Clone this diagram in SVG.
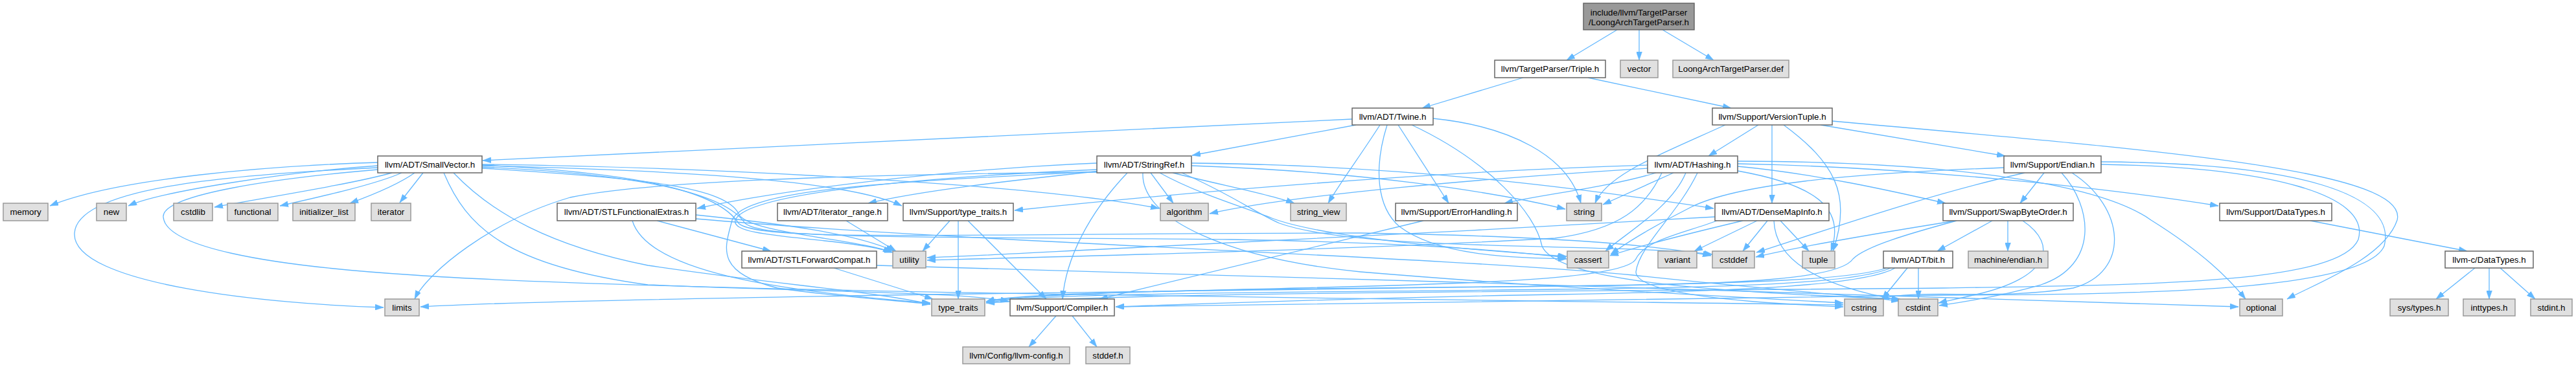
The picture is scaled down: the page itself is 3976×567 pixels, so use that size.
<svg xmlns="http://www.w3.org/2000/svg" width="3976" height="567" viewBox="0 0 3976 567">
<style>
.n rect{fill:#ffffff;stroke:#666666;stroke-width:1.5}
.x rect{fill:#e0e0e0;stroke:#999999;stroke-width:1.5}
.r rect{fill:#999999;stroke:#666666;stroke-width:1.5}
text{font-family:"Liberation Sans",Arial,Helvetica,sans-serif;font-size:13.33px;fill:#000000;text-anchor:middle}
#edges path{fill:none;stroke:#63b8ff;stroke-width:1.3;marker-end:url(#ah)}
</style>
<defs>
<marker id="ah" viewBox="0 0 13 9" refX="13" refY="4.5" markerWidth="13" markerHeight="9" orient="auto" markerUnits="userSpaceOnUse">
<path d="M0,0 L13,4.5 L0,9 Z" fill="#63b8ff" stroke="#63b8ff" stroke-width="0.5"/>
</marker>
</defs>
<rect width="3976" height="567" fill="#ffffff"/>
<g id="edges">
<path d="M2496,46 L2418,93"/>
<path d="M2530,46 L2530,93"/>
<path d="M2566,46 L2645,93"/>
<path d="M2351,120 L2195,167"/>
<path d="M2451,120 L2672,167"/>
<path d="M2087,184 L745,248"/>
<path d="M2093,193 L1840,240"/>
<path d="M2130,193 C2100,240 2070,280 2050,314"/>
<path d="M2141,193 C2120,260 2125,320 2160,350 C2220,395 2330,398 2418,400"/>
<path d="M2158,193 L2236,314"/>
<path d="M2179,193 C2300,250 2370,330 2380,380 C2400,430 2600,450 2933,462"/>
<path d="M2212,183 C2330,195 2420,240 2440,314"/>
<path d="M2663,193 C2560,240 2480,270 2462,314"/>
<path d="M2714,193 L2637,241"/>
<path d="M2735,193 L2735,314"/>
<path d="M2753,193 C2830,250 2860,300 2829,388"/>
<path d="M2810,193 L3095,241"/>
<path d="M2828,187 C3300,230 3720,260 3700,340 C3680,400 3570,440 3530,462"/>
<path d="M2543,255 C2200,265 1800,300 1566,325"/>
<path d="M2543,260 C2300,275 2000,300 1867,330"/>
<path d="M2565,267 C2540,320 2500,355 2400,368 C2100,385 1700,395 1431,402"/>
<path d="M2556,267 C2480,290 2380,300 2322,314"/>
<path d="M2583,267 L2474,316"/>
<path d="M2602,267 C2580,320 2510,360 2478,388"/>
<path d="M2620,267 C2590,330 2530,380 2525,420 C2525,455 2700,468 2845,474"/>
<path d="M2682,264 C2800,285 2850,320 2826,388"/>
<path d="M2682,257 C2800,268 2920,295 3003,314"/>
<path d="M2682,253 C2950,258 3250,290 3424,318"/>
<path d="M2682,249 C3050,250 3250,290 3320,340 C3400,390 3440,430 3466,462"/>
<path d="M3155,267 L3118,314"/>
<path d="M3125,267 C2980,300 2850,345 2711,390"/>
<path d="M3093,259 C2850,268 2680,285 2610,320 C2560,345 2510,375 2486,393"/>
<path d="M3182,267 C3230,320 3240,410 3150,440 C3080,460 3020,468 2993,472"/>
<path d="M3198,267 C3280,320 3290,420 3200,445 C3080,465 2960,445 2902,462"/>
<path d="M3243,254 C3500,258 3660,300 3640,370 C3610,440 3300,440 3000,445 C2500,450 1800,450 1522,468"/>
<path d="M3243,250 C3550,252 3700,300 3680,380 C3650,450 3300,455 3000,456 C2500,460 2000,470 1722,474"/>
<path d="M3075,341 L2990,388"/>
<path d="M3099,341 L3099,388"/>
<path d="M3019,341 C2900,360 2780,380 2710,397"/>
<path d="M3122,341 C3180,380 3160,430 3050,455 C3020,462 3000,466 2992,468"/>
<path d="M3020,341 C2950,360 2880,380 2860,400 C2840,430 2700,440 2400,442 C2000,446 1650,448 1522,466"/>
<path d="M2944,414 L2905,462"/>
<path d="M2961,414 L2961,462"/>
<path d="M2912,414 C2860,432 2700,438 2400,442 C1800,450 900,460 649,474"/>
<path d="M2918,414 C2870,436 2700,444 2400,447 C2000,452 1600,452 1522,468"/>
<path d="M2925,414 C2880,440 2700,450 2400,455 C2100,460 1900,468 1722,474"/>
<path d="M2690,341 C2610,360 2530,380 2485,395"/>
<path d="M2712,341 L2615,388"/>
<path d="M2728,341 L2690,388"/>
<path d="M2748,341 L2792,388"/>
<path d="M2738,341 C2740,400 2800,440 2933,464"/>
<path d="M2647,335 C2400,350 2000,370 1800,380 C1600,390 1500,396 1431,398"/>
<path d="M2650,341 C2600,360 2540,370 2525,400 C2510,430 2300,438 2000,445 C1700,452 1560,455 1522,466"/>
<path d="M1014,341 L1190,388"/>
<path d="M1074,338 C1500,375 2200,395 2520,425 C2700,445 2850,455 2932,465"/>
<path d="M976,341 C1000,420 1200,450 1436,468"/>
<path d="M1074,332 C1200,345 1320,360 1380,388"/>
<path d="M1306,341 L1383,388"/>
<path d="M1466,341 L1424,388"/>
<path d="M1479,341 L1479,462"/>
<path d="M1494,341 L1615,462"/>
<path d="M1287,414 L1440,462"/>
<path d="M1353,410 C2000,430 3000,455 3455,474"/>
<path d="M2197,341 L1697,462"/>
<path d="M1630,488 L1588,536"/>
<path d="M1655,488 L1693,536"/>
<path d="M3566,341 L3808,388"/>
<path d="M3820,414 L3760,462"/>
<path d="M3842,414 L3842,462"/>
<path d="M3859,414 L3913,462"/>
<path d="M1693,252 C1450,262 1200,295 1076,322"/>
<path d="M1700,264 C1550,280 1420,295 1340,314"/>
<path d="M1693,262 C1400,275 1150,300 1135,340 C1125,370 1300,365 1378,390"/>
<path d="M1693,266 C1300,270 1000,280 880,305 C760,340 660,420 640,462"/>
<path d="M1693,265 C1400,280 1150,290 1130,340 C1120,380 1100,420 1200,445 C1300,460 1400,465 1436,470"/>
<path d="M1740,267 C1680,330 1645,400 1640,462"/>
<path d="M1776,267 L1811,314"/>
<path d="M1810,267 C1880,285 1960,300 1998,314"/>
<path d="M1839,256 C2100,265 2300,295 2416,323"/>
<path d="M1839,252 C2200,255 2500,300 2645,322"/>
<path d="M1790,267 C1850,300 1920,320 1963,337 C2050,370 2300,388 2418,396"/>
<path d="M1824,267 C1900,300 1940,330 1975,345 C2100,390 2500,375 2643,393"/>
<path d="M1764,267 C1760,340 1900,400 2100,420 C2400,445 2700,460 2845,468"/>
<path d="M583,251 C420,256 180,275 77,318"/>
<path d="M583,256 C450,265 250,295 198,318"/>
<path d="M605,267 C540,285 410,305 331,320"/>
<path d="M620,267 C580,285 490,305 432,318"/>
<path d="M640,267 C615,285 570,303 540,314"/>
<path d="M653,267 L617,313"/>
<path d="M583,259 C350,270 120,290 115,360 C110,440 420,470 592,475"/>
<path d="M583,262 C430,275 250,300 252,335 C255,380 400,410 640,425 C1000,450 2000,460 2845,471"/>
<path d="M685,267 C720,350 780,410 1000,440 C1300,452 1500,452 1557,466"/>
<path d="M700,267 C760,330 850,380 1000,410 C1200,440 1350,450 1436,470"/>
<path d="M744,256 C1000,262 1300,275 1392,318"/>
<path d="M744,254 C1100,258 1600,285 1789,322"/>
<path d="M744,260 C1000,275 1120,290 1140,330 C1150,360 1330,370 1376,390"/>
<path d="M744,258 C1000,270 1120,300 1150,345 C1180,370 1400,365 1900,370 C2200,375 2350,390 2417,398"/>
<path d="M744,255 C1000,268 1110,298 1140,345 C1170,375 1500,360 2100,360 C2400,365 2550,378 2641,395"/>
</g>
<g id="root" class="r"><rect x="2444" y="5" width="171" height="41"/><text x="2529.5" y="23.5">include/llvm/TargetParser</text><text x="2529.5" y="38.5">/LoongArchTargetParser.h</text></g>
<g id="triple" class="n"><rect x="2307" y="93" width="171" height="27"/><text x="2392.5" y="111">llvm/TargetParser/Triple.h</text></g>
<g id="vector" class="x"><rect x="2501" y="93" width="58" height="27"/><text x="2530" y="111">vector</text></g>
<g id="def" class="x"><rect x="2582" y="93" width="179" height="27"/><text x="2671.5" y="111">LoongArchTargetParser.def</text></g>
<g id="twine" class="n"><rect x="2087" y="167" width="125" height="26"/><text x="2149.5" y="184.5">llvm/ADT/Twine.h</text></g>
<g id="versiontuple" class="n"><rect x="2643" y="167" width="185" height="26"/><text x="2735.5" y="184.5">llvm/Support/VersionTuple.h</text></g>
<g id="smallvector" class="n"><rect x="583" y="241" width="161" height="26"/><text x="663.5" y="258.5">llvm/ADT/SmallVector.h</text></g>
<g id="stringref" class="n"><rect x="1693" y="241" width="146" height="26"/><text x="1766" y="258.5">llvm/ADT/StringRef.h</text></g>
<g id="hashing" class="n"><rect x="2543" y="241" width="139" height="26"/><text x="2612.5" y="258.5">llvm/ADT/Hashing.h</text></g>
<g id="endian" class="n"><rect x="3093" y="241" width="150" height="26"/><text x="3168" y="258.5">llvm/Support/Endian.h</text></g>
<g id="memory" class="x"><rect x="5" y="314" width="69" height="27"/><text x="39.5" y="332">memory</text></g>
<g id="new" class="x"><rect x="149" y="314" width="46" height="27"/><text x="172" y="332">new</text></g>
<g id="cstdlib" class="x"><rect x="268" y="314" width="60" height="27"/><text x="298" y="332">cstdlib</text></g>
<g id="functional" class="x"><rect x="351" y="314" width="78" height="27"/><text x="390" y="332">functional</text></g>
<g id="initializer_list" class="x"><rect x="452" y="314" width="96" height="27"/><text x="500" y="332">initializer_list</text></g>
<g id="iterator" class="x"><rect x="573" y="314" width="61" height="27"/><text x="603.5" y="332">iterator</text></g>
<g id="stlfunctionalextras" class="n"><rect x="860" y="314" width="214" height="27"/><text x="967" y="332">llvm/ADT/STLFunctionalExtras.h</text></g>
<g id="iterator_range" class="n"><rect x="1200" y="314" width="170" height="27"/><text x="1285" y="332">llvm/ADT/iterator_range.h</text></g>
<g id="support_type_traits" class="n"><rect x="1394" y="314" width="170" height="27"/><text x="1479" y="332">llvm/Support/type_traits.h</text></g>
<g id="algorithm" class="x"><rect x="1791" y="314" width="74" height="27"/><text x="1828" y="332">algorithm</text></g>
<g id="string_view" class="x"><rect x="1992" y="314" width="86" height="27"/><text x="2035" y="332">string_view</text></g>
<g id="errorhandling" class="n"><rect x="2154" y="314" width="188" height="27"/><text x="2248" y="332">llvm/Support/ErrorHandling.h</text></g>
<g id="string" class="x"><rect x="2418" y="314" width="54" height="27"/><text x="2445" y="332">string</text></g>
<g id="densemapinfo" class="n"><rect x="2647" y="314" width="176" height="27"/><text x="2735" y="332">llvm/ADT/DenseMapInfo.h</text></g>
<g id="swapbyteorder" class="n"><rect x="2999" y="314" width="201" height="27"/><text x="3099.5" y="332">llvm/Support/SwapByteOrder.h</text></g>
<g id="support_datatypes" class="n"><rect x="3426" y="314" width="173" height="27"/><text x="3512.5" y="332">llvm/Support/DataTypes.h</text></g>
<g id="stlforwardcompat" class="n"><rect x="1145" y="388" width="208" height="26"/><text x="1249" y="405.5">llvm/ADT/STLForwardCompat.h</text></g>
<g id="utility" class="x"><rect x="1378" y="388" width="51" height="26"/><text x="1403.5" y="405.5">utility</text></g>
<g id="cassert" class="x"><rect x="2419" y="388" width="64" height="26"/><text x="2451" y="405.5">cassert</text></g>
<g id="variant" class="x"><rect x="2559" y="388" width="60" height="26"/><text x="2589" y="405.5">variant</text></g>
<g id="cstddef" class="x"><rect x="2643" y="388" width="65" height="26"/><text x="2675.5" y="405.5">cstddef</text></g>
<g id="tuple" class="x"><rect x="2782" y="388" width="50" height="26"/><text x="2807" y="405.5">tuple</text></g>
<g id="bit" class="n"><rect x="2907" y="388" width="107" height="26"/><text x="2960.5" y="405.5">llvm/ADT/bit.h</text></g>
<g id="machine_endian" class="x"><rect x="3038" y="388" width="123" height="26"/><text x="3099.5" y="405.5">machine/endian.h</text></g>
<g id="c_datatypes" class="n"><rect x="3774" y="388" width="136" height="26"/><text x="3842" y="405.5">llvm-c/DataTypes.h</text></g>
<g id="limits" class="x"><rect x="594" y="462" width="53" height="26"/><text x="620.5" y="479.5">limits</text></g>
<g id="type_traits" class="x"><rect x="1438" y="462" width="82" height="26"/><text x="1479" y="479.5">type_traits</text></g>
<g id="compiler" class="n"><rect x="1559" y="462" width="161" height="26"/><text x="1639.5" y="479.5">llvm/Support/Compiler.h</text></g>
<g id="cstring" class="x"><rect x="2847" y="462" width="60" height="26"/><text x="2877" y="479.5">cstring</text></g>
<g id="cstdint" class="x"><rect x="2930" y="462" width="61" height="26"/><text x="2960.5" y="479.5">cstdint</text></g>
<g id="optional" class="x"><rect x="3457" y="462" width="66" height="26"/><text x="3490" y="479.5">optional</text></g>
<g id="sys_types" class="x"><rect x="3689" y="462" width="90" height="26"/><text x="3734" y="479.5">sys/types.h</text></g>
<g id="inttypes" class="x"><rect x="3802" y="462" width="80" height="26"/><text x="3842" y="479.5">inttypes.h</text></g>
<g id="stdint" class="x"><rect x="3906" y="462" width="64" height="26"/><text x="3938" y="479.5">stdint.h</text></g>
<g id="llvm_config" class="x"><rect x="1486" y="536" width="165" height="26"/><text x="1568.5" y="553.5">llvm/Config/llvm-config.h</text></g>
<g id="stddef" class="x"><rect x="1676" y="536" width="68" height="26"/><text x="1710" y="553.5">stddef.h</text></g>
</svg>
